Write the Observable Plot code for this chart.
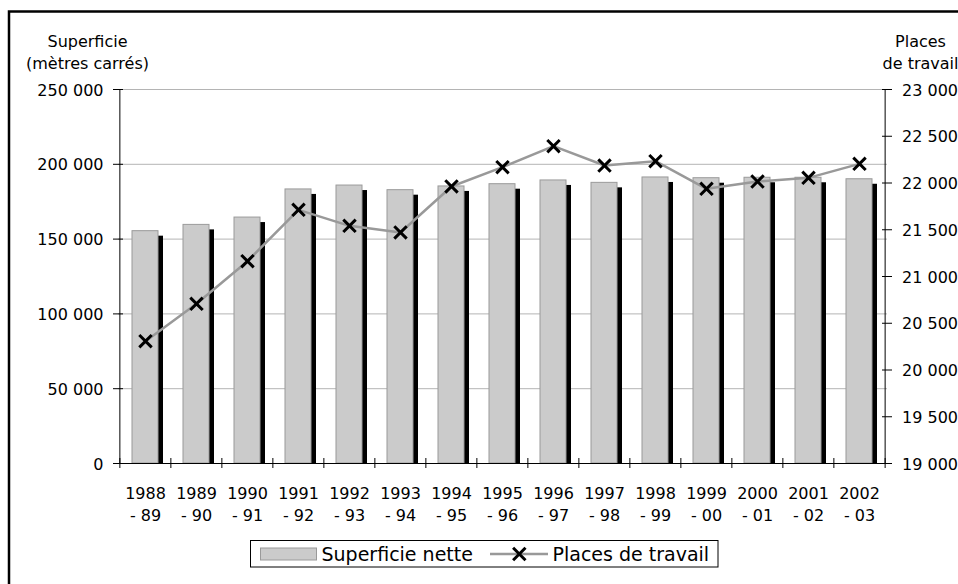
<!DOCTYPE html>
<html>
<head>
<meta charset="utf-8">
<script src="https://cdn.jsdelivr.net/npm/d3@7"></script>
<script src="https://cdn.jsdelivr.net/npm/@observablehq/plot@0.6"></script>
<style>
  html, body { margin: 0; padding: 0; background: white; overflow: hidden; }
  #chart svg { display: block; }
</style>
</head>
<body>
<div id="chart"></div>
<script>
const categories = ["1988 - 89", "1989 - 90", "1990 - 91", "1991 - 92", "1992 - 93", "1993 - 94", "1994 - 95",
  "1995 - 96", "1996 - 97", "1997 - 98", "1998 - 99", "1999 - 00", "2000 - 01", "2001 - 02", "2002 - 03"];
const superficieNette = [155300, 159500, 164400, 183200, 185800, 182700, 185200, 186700, 189200, 187600,
  191200, 190700, 191000, 191000, 190000];
const placesDeTravail = [20308, 20708, 21164, 21713, 21542, 21471, 21963, 22169, 22394, 22187,
  22233, 21938, 22016, 22055, 22205];
const leftTicks = [0, 50000, 100000, 150000, 200000, 250000];
const rightTicks = [19000, 19500, 20000, 20500, 21000, 21500, 22000, 22500, 23000];
const leftTitle = ["Superficie", "(mètres carrés)"];
const rightTitle = ["Places", "de travail"];
const legendLabels = ["Superficie nette", "Places de travail"];

const data = categories.map((c, i) => ({cat: c, sup: superficieNette[i], places: placesDeTravail[i]}));

const W = 958, H = 584, mL = 118, mR = 71, mT = 89, mB = 121;
const plotW = W - mL - mR, plotH = H - mT - mB;
const step = plotW / categories.length;
const leftMax = 250000, rMin = 19000, rMax = 23000;
const toLeft = p => (p - rMin) * leftMax / (rMax - rMin);
const fromLeft = v => Math.round(v * (rMax - rMin) / leftMax + rMin);
const fmt = v => d3.format(",")(v).replace(/,/g, " ");
const font = "'DejaVu Sans', Verdana, sans-serif";

const svg = Plot.plot({
  width: W, height: H,
  marginLeft: mL, marginRight: mR, marginTop: mT, marginBottom: mB,
  style: {fontFamily: font, fontSize: "16px", background: "white", color: "black"},
  x: {domain: categories, paddingInner: 0.49, paddingOuter: 0.245, axis: null},
  y: {domain: [0, leftMax], axis: null},
  marks: [
    Plot.ruleY(leftTicks, {stroke: "#b4b4b4", strokeWidth: 1}),
    Plot.barY(data, {x: "cat", y: "sup", fill: "black", dx: 5, dy: 5, clip: true}),
    Plot.barY(data, {x: "cat", y: "sup", fill: "#cbcbcb", stroke: "#9a9a9a", strokeWidth: 1}),
    Plot.line(data, {x: "cat", y: d => toLeft(d.places), stroke: "#999999", strokeWidth: 2.5}),
    Plot.dot(data, {x: "cat", y: d => toLeft(d.places), symbol: "times", r: 5.7, stroke: "black", strokeWidth: 3}),
    // axis lines
    Plot.ruleY([0], {stroke: "black"}),
    Plot.ruleX([categories[0]], {dx: -step / 2, stroke: "black"}),
    Plot.ruleX([categories[categories.length - 1]], {dx: step / 2, stroke: "black"}),
    // crossing ticks
    Plot.ruleY(leftTicks, {dx: -5, insetRight: plotW - 10, stroke: "black"}),
    Plot.ruleY(rightTicks.map(toLeft), {dx: 5, insetLeft: plotW - 10, stroke: "black"}),
    Plot.ruleX(categories, {dx: -step / 2, dy: 5, insetTop: plotH - 10, stroke: "black"}),
    Plot.ruleX([categories[categories.length - 1]], {dx: step / 2, dy: 5, insetTop: plotH - 10, stroke: "black"}),
    // tick labels
    Plot.axisY(leftTicks, {anchor: "left", tickSize: 0, tickPadding: 15, tickFormat: fmt, label: null, dy: 1, fontSize: 16}),
    Plot.axisY(rightTicks.map(toLeft), {anchor: "right", tickSize: 0, tickPadding: 14.5, tickFormat: v => fmt(fromLeft(v)), label: null, dy: 1, fontSize: 16}),
    Plot.axisX({tickSize: 0, tickPadding: 20.5, tickFormat: d => d.replace(" - ", "\n- "), lineHeight: 1.36, label: null, fontSize: 16}),
    // axis titles
    Plot.text([leftTitle[0]], {frameAnchor: "top-left", dx: -31, dy: -53.6, textAnchor: "middle", fontSize: 16}),
    Plot.text([leftTitle[1]], {frameAnchor: "top-left", dx: -31, dy: -31.8, textAnchor: "middle", fontSize: 16}),
    Plot.text([rightTitle[0]], {frameAnchor: "top-right", dx: 33, dy: -53.6, textAnchor: "middle", fontSize: 16}),
    Plot.text([rightTitle[1]], {frameAnchor: "top-right", dx: 33, dy: -32.3, textAnchor: "middle", fontSize: 16})
  ]
});

// outer border and legend
const s = d3.select(svg);
s.append("rect").attr("x", 9).attr("y", 11.5).attr("width", 2000).attr("height", 2000)
  .attr("fill", "none").attr("stroke", "black").attr("stroke-width", 2.5);

const lg = s.append("g").attr("font-family", font).attr("font-size", 19).attr("text-anchor", "start");
lg.append("rect").attr("x", 250.5).attr("y", 540.5).attr("width", 467.5).attr("height", 26.5)
  .attr("fill", "white").attr("stroke", "black").attr("stroke-width", 1);
lg.append("rect").attr("x", 260.5).attr("y", 548).attr("width", 56).attr("height", 12)
  .attr("fill", "#cbcbcb").attr("stroke", "#9a9a9a").attr("stroke-width", 1);
lg.append("text").attr("x", 321.5).attr("y", 554).attr("dy", "0.35em").attr("text-anchor", "start").text(legendLabels[0]);
lg.append("line").attr("x1", 490).attr("x2", 548).attr("y1", 554).attr("y2", 554)
  .attr("stroke", "#999999").attr("stroke-width", 2.5);
lg.append("path").attr("d", d3.symbol(d3.symbolTimes, Math.PI * 5.7 * 5.7)())
  .attr("transform", "translate(519.3,554)").attr("fill", "none").attr("stroke", "black").attr("stroke-width", 3);
lg.append("text").attr("x", 552.5).attr("y", 554).attr("dy", "0.35em").attr("text-anchor", "start").text(legendLabels[1]);

document.getElementById("chart").appendChild(svg);
</script>
</body>
</html>
